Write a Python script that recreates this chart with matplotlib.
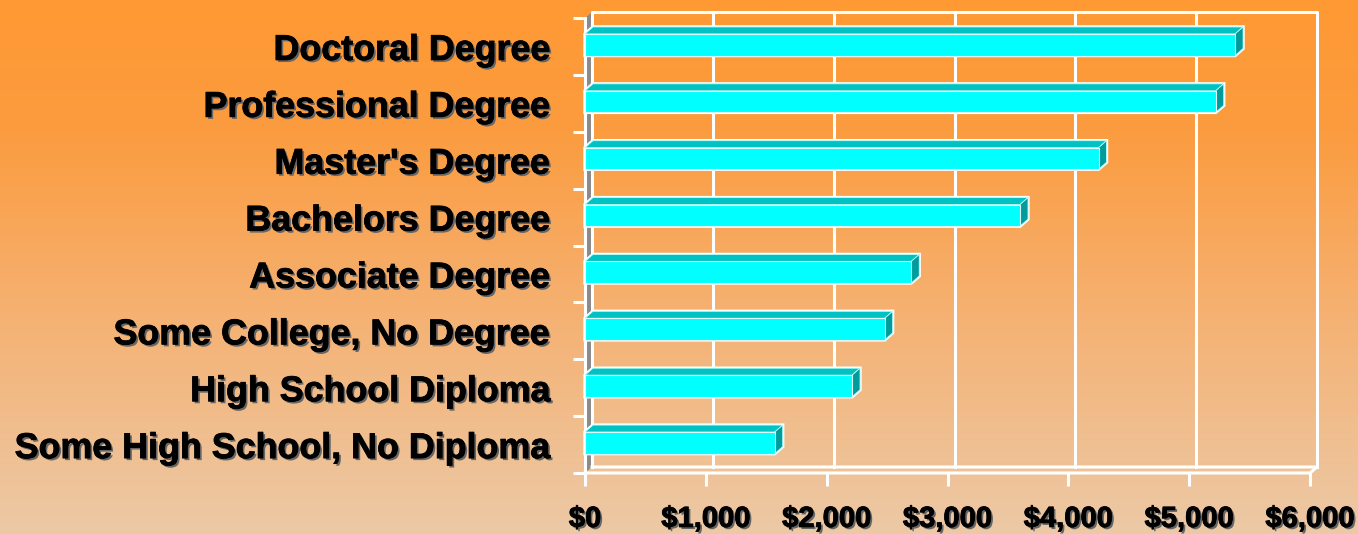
import numpy as np
import matplotlib
matplotlib.use("Agg")
import matplotlib.pyplot as plt
import matplotlib.patheffects as pe
from matplotlib.patches import Polygon, Rectangle
from matplotlib.colors import LinearSegmentedColormap

# data, top to bottom
categories = ["Doctoral Degree", "Professional Degree", "Master's Degree",
              "Bachelors Degree", "Associate Degree", "Some College, No Degree",
              "High School Diploma", "Some High School, No Diploma"]
earnings = [5380, 5220, 4250, 3600, 2700, 2480, 2210, 1570]
x_ticks = [0, 1000, 2000, 3000, 4000, 5000, 6000]
x_labels = ["$0", "$1,000", "$2,000", "$3,000", "$4,000", "$5,000", "$6,000"]

W, H = 1358, 534
fig = plt.figure(figsize=(W / 100, H / 100), dpi=100)

# background gradient
bg = fig.add_axes([0, 0, 1, 1], zorder=-5)
cmap = LinearSegmentedColormap.from_list(
    "bg", [(0.0, "#ff9933"), (0.25, "#fb9c40"), (0.6, "#f5b274"), (1.0, "#ecc9a6")])
bg.imshow(np.linspace(0, 1, 256).reshape(-1, 1), aspect="auto", cmap=cmap,
          extent=[0, 1, 0, 1])
bg.axis("off")

# front plane of the 3d chart in pixels
x0, x1, ytop, ybot = 585, 1310, 18, 473
ax = fig.add_axes([x0 / W, (H - ybot) / H, (x1 - x0) / W, (ybot - ytop) / H])
ax.patch.set_alpha(0)
n = len(categories)
ax.set_xlim(0, 6000)
ax.set_ylim(n, 0)
for s in ax.spines.values():
    s.set_visible(False)

# depth offsets, pixels -> data units
px_x = 6000 / (x1 - x0)
px_y = n / (ybot - ytop)
DX, DY = 7 * px_x, 6 * px_y        # walls
BDX, BDY = 8 * px_x, 7 * px_y      # bars
wc = "white"
lw = 2.2

# left side wall
ax.add_patch(Polygon([(0, n), (DX, n - DY), (DX, -DY), (0, 0)], closed=True,
                     facecolor="#8a8a8a", edgecolor="none", clip_on=False, zorder=1))
# back wall outline + gridlines
ax.plot([DX, DX, 6000 + DX, 6000 + DX], [n - DY, -DY, -DY, n - DY], color=wc,
        lw=lw, clip_on=False, zorder=2, solid_joinstyle="round")
for t in x_ticks[1:-1]:
    ax.plot([t + DX, t + DX], [n - DY, -DY], color=wc, lw=lw, clip_on=False, zorder=2)
# floor
ax.plot([DX, 6000 + DX, 6000, 0], [n - DY, n - DY, n, n], color=wc, lw=lw,
        clip_on=False, zorder=2)
ax.plot([0, 0], [0, n], color=wc, lw=lw, clip_on=False, zorder=2)

# bars
bh = 0.38
for i, v in enumerate(earnings):
    yc = i + 0.5 - 0.03
    yt, yb = yc - bh / 2, yc + bh / 2
    outline = Polygon([(0, yb), (0, yt), (BDX, yt - BDY), (v + BDX, yt - BDY),
                       (v + BDX, yb - BDY), (v, yb)],
                      facecolor="none", edgecolor=wc, lw=2.4, zorder=3, clip_on=False)
    top = Polygon([(0, yt), (v, yt), (v + BDX, yt - BDY), (BDX, yt - BDY)],
                  facecolor="#00c2c2", edgecolor="#b8ffff", lw=0.6, zorder=4,
                  clip_on=False)
    side = Polygon([(v, yt), (v + BDX, yt - BDY), (v + BDX, yb - BDY), (v, yb)],
                   facecolor="#009c9c", edgecolor="#b8ffff", lw=0.6, zorder=4,
                   clip_on=False)
    ax.add_patch(outline)
    ax.add_patch(top)
    ax.add_patch(side)
    ax.add_patch(Rectangle((0, yt), v, bh, facecolor="#00ffff", edgecolor="#e0ffff",
                           lw=0.8, zorder=5, clip_on=False))

shadow = [pe.SimplePatchShadow(offset=(1.5, -1.5), shadow_rgbFace="0.4", alpha=1),
          pe.Stroke(linewidth=0.6, foreground="black"), pe.Normal()]

# y axis: ticks at boundaries, labels at centres
ax.set_yticks(np.arange(n + 1))
ax.set_yticklabels([])
ax.tick_params(axis="y", which="major", length=9, width=lw, color=wc)
ax.set_yticks(np.arange(n) + 0.5, minor=True)
ax.set_yticklabels(categories, minor=True, fontsize=25.8, fontweight="bold",
                   family="Liberation Sans")
ax.tick_params(axis="y", which="minor", length=0, pad=25)

ax.set_xticks(x_ticks)
ax.set_xticklabels(x_labels, fontsize=21, fontweight="bold", family="Liberation Sans")
ax.tick_params(axis="x", length=9, width=lw, color=wc, pad=14)

for lab in ax.get_yticklabels(minor=True) + ax.get_xticklabels():
    lab.set_path_effects(shadow)

fig.savefig("out.png", dpi=100)
